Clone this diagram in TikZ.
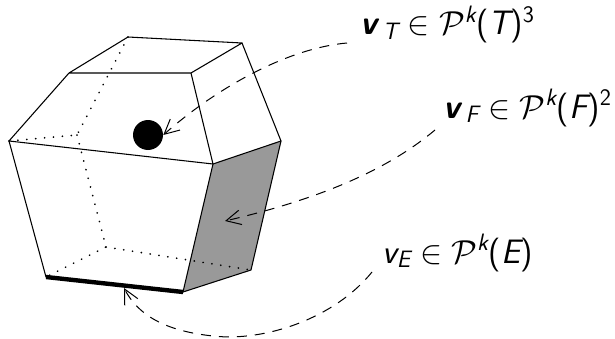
\documentclass[tikz,border=0pt]{standalone}
\usepackage{amsmath}
\usepackage{fontspec}
\usetikzlibrary{arrows.meta,calc}
\newcommand{\sit}[1]{\text{\sffamily\itshape #1}}
\newcommand{\sbit}[1]{\text{\sffamily\bfseries\itshape #1}}
\newcommand{\srm}[1]{\text{\sffamily #1}}
\tikzset{
  x=0.75pt,y=-0.75pt,
  edge/.style={line width=0.8pt,line join=round,line cap=round},
  hidden/.style={line width=1.35pt,line cap=round,dash pattern=on 0.1pt off 6.6pt},
  lead/.style={line width=0.75pt,dash pattern=on 7.5pt off 6pt,-{Straight Barb[length=11pt,width=11pt,line width=0.75pt]}},
  lab/.style={anchor=base west,inner sep=0pt,font=\fontsize{25.4}{30}\selectfont},
}
\begin{document}
\begin{tikzpicture}
\useasboundingbox (0,0) rectangle (615,339);
\coordinate (A) at (128,37); \coordinate (B) at (242,43);
\coordinate (C) at (69,73); \coordinate (D) at (191,73);
\coordinate (E) at (9,141); \coordinate (F) at (213,164);
\coordinate (G) at (281,141); \coordinate (H) at (46,277);
\coordinate (I) at (183,292); \coordinate (J) at (251,270);
\coordinate (K) at (77,135); \coordinate (L) at (106,247);
\fill[black!40] (F) -- (G) -- (J) -- (I) -- cycle;
\draw[hidden] (A) -- (K) -- (E);
\draw[hidden] (K) -- (L) -- (H);
\draw[hidden] (L) -- (J);
\draw[edge] (C) -- (A) -- (B) -- (D) -- (C) -- (E) -- (F) -- (D);
\draw[edge] (B) -- (G) -- (F) -- (I);
\draw[edge] (E) -- (H);
\draw[edge] (I) -- (J) -- (G);
\draw[line width=3.3pt] (H) -- (I);
\node[circle,fill=black,inner sep=0pt,minimum size=22.5pt] (ball) at (148,135) {};
\node[lab] (vT) at (360,35) {$\sbit{v}\,{}_{\sit{T}}\in\mathcal{P}^{\sit{k}}\srm{(}\sit{T}\srm{)}{}^{\srm{3}}$};
\node[lab] (vF) at (443,118) {$\sbit{v}\,{}_{\sit{F}}\in\mathcal{P}^{\sit{k}}\srm{(}\sit{F}\srm{)}{}^{\srm{2}}$};
\node[lab] (vE) at (382,263) {$\sit{v}_{\sit{E}}\in\mathcal{P}^{\sit{k}}\srm{(}\sit{E}\srm{)}$};
\coordinate (tF) at (225,221);
\coordinate (tE) at (124,288);
\draw[lead] ($(vT.base west)+(-13,8)$) .. controls (290,48) and (220,85) .. (ball.east);
\draw[lead] ($(vF.base west)+(-8,12)$) .. controls (385,172) and (315,200) .. (tF);
\draw[lead] ($(vE.base west)+(-10,9)$) .. controls (335,318) and (265,342) .. (213,336) .. controls (165,331) and (138,315) .. (tE);
\end{tikzpicture}
\end{document}
